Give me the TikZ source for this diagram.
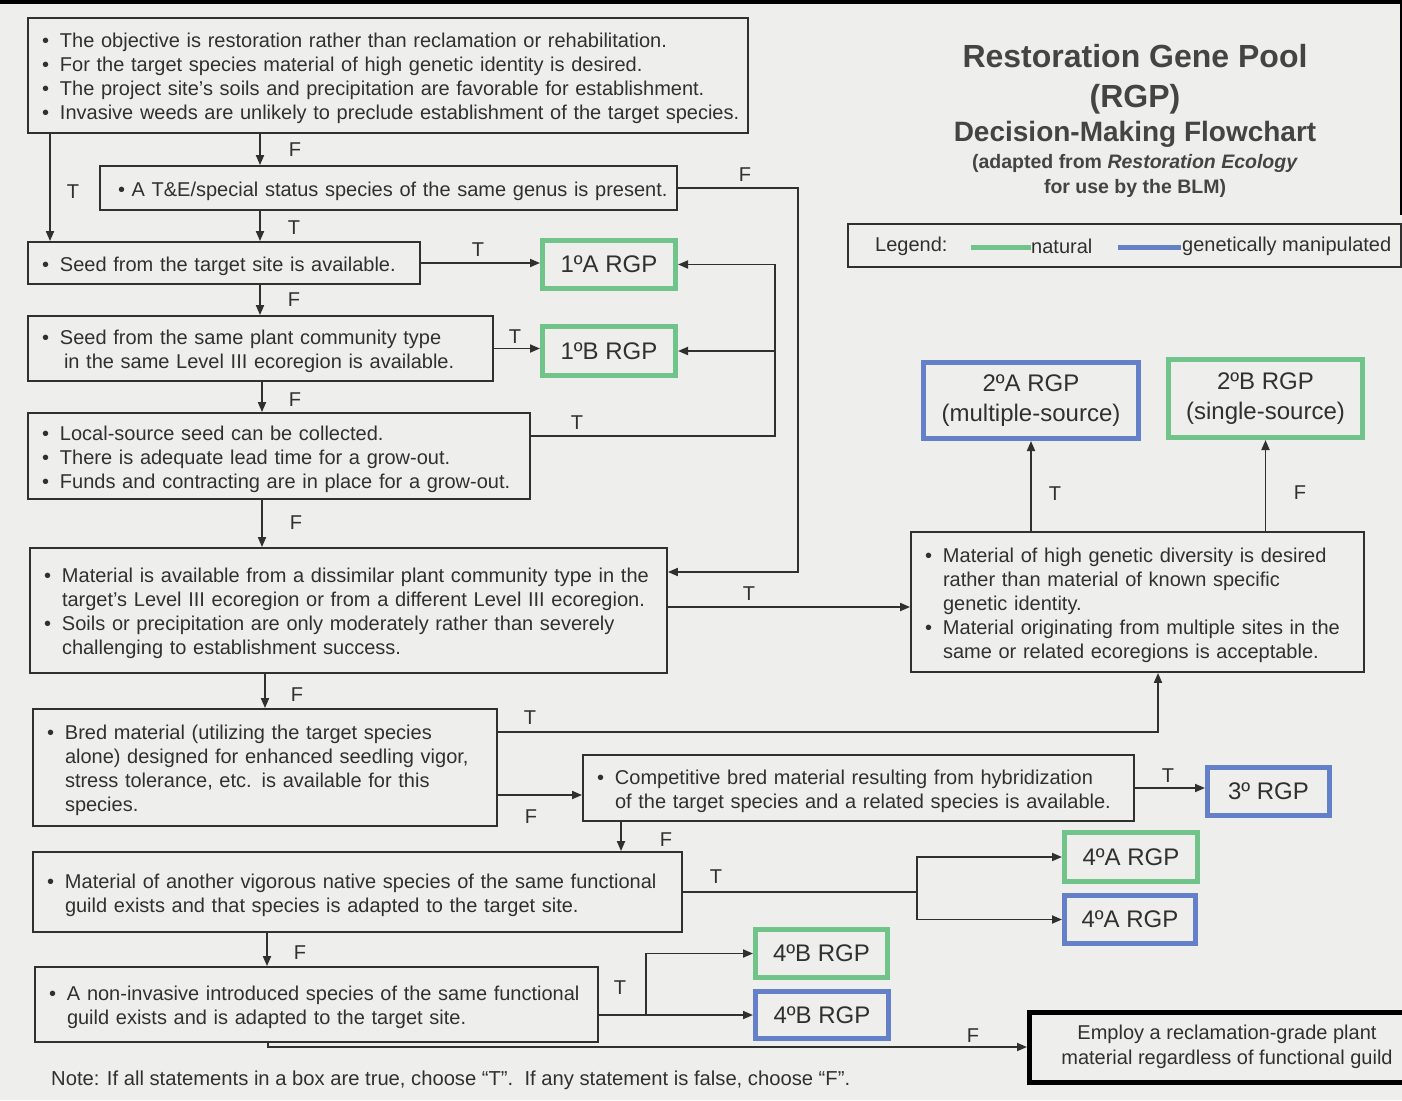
\documentclass[tikz,border=0pt]{standalone}
\usepackage{fontspec}
\setmainfont{Liberation Sans}
\usetikzlibrary{arrows.meta}
\definecolor{bgc}{RGB}{238,238,237}
\definecolor{ink}{RGB}{48,48,48}
\definecolor{grn}{RGB}{112,196,138}
\definecolor{blu}{RGB}{100,128,200}
\newcommand\bul{\makebox[18pt][l]{\textbullet}}
\newcommand\hind{\hspace*{18pt}}
\tikzset{
  cond/.style={draw=ink, line width=1.8pt, inner xsep=14pt, inner ysep=0pt, align=left, text=ink,
    font=\fontsize{20}{24}\selectfont},
  rgp/.style={line width=5pt, inner sep=0pt, align=center, text=ink, font=\fontsize{24}{30}\selectfont},
  lab/.style={text=ink, inner sep=0pt, font=\fontsize{20}{24}\selectfont},
  arr/.style={draw=ink, line width=1.8pt, -{Triangle[length=10pt,width=8pt]}},
  ttl/.style={text={rgb,255:red,68;green,68;blue,68}, inner sep=0pt, font=\bfseries},
}
% name, x1, y1, x2, y2, text  (optional extra options)
\newcommand\condbox[7][]{%
  \pgfmathsetmacro\cbw{#5-#3}%
  \pgfmathsetmacro\cbh{#6-#4}%
  \pgfmathsetmacro\cbt{#5-#3-28}%
  \node[cond, minimum width=\cbw pt, minimum height=\cbh pt, text width=\cbt pt, #1] (#2) at ({(#3+#5)/2},{(#4+#6)/2})
   {\noindent\raisebox{-3.5pt}[\height][\depth]{\begin{tabular}{@{}l@{}}#7\end{tabular}}};}
\newcommand\rgpbox[7]{%
  \pgfmathsetmacro\cbw{#5-#3-5}%
  \pgfmathsetmacro\cbh{#6-#4-5}%
  \node[rgp, draw=#7, minimum width=\cbw pt, minimum height=\cbh pt] (#1) at ({(#3+#5)/2},{(#4+#6)/2}) {#2};}
\begin{document}
\begin{tikzpicture}[x=1pt,y=-1pt]
\useasboundingbox (0,0) rectangle (1402,1100);
\fill[bgc] (0,0) rectangle (1402,1100);
\fill[black] (0,0) rectangle (1402,4);
\fill[black] (1400,0) rectangle (1402,215);

% ---------- title ----------
\node[ttl, font=\bfseries\fontsize{32}{36}\selectfont] (t1) at (1135,56) {Restoration Gene Pool};
\node[ttl, font=\bfseries\fontsize{32}{36}\selectfont] (t2) at (1135,99) {(RGP)};
\node[ttl, font=\bfseries\fontsize{28}{32}\selectfont] (t3) at (1135,134) {Decision-Making Flowchart};
\node[ttl, font=\bfseries\fontsize{19.5}{24}\selectfont] (t4) at (1135,163) {(adapted from \textit{Restoration Ecology}};
\node[ttl, font=\bfseries\fontsize{19.5}{24}\selectfont] (t5) at (1135,188) {for use by the BLM)};

% ---------- legend ----------
\node[draw=ink, line width=1.8pt, minimum width=553pt, minimum height=43pt, inner sep=0pt] (leg) at (1124.5,245.5) {};
\node[lab, anchor=west] (lg1) at (875,246) {Legend:};
\draw[grn, line width=5pt] (971,247) -- (1031,247);
\node[lab, anchor=west] (lg2) at (1031,246) {natural};
\draw[blu, line width=5pt] (1118,247) -- (1181,247);
\node[lab, anchor=west] (lg3) at (1182,246) {genetically manipulated};

% ---------- condition boxes ----------
\condbox{b1}{28}{18}{748}{133}{\bul The objective is restoration rather than reclamation or rehabilitation.\\
 \bul For the target species material of high genetic identity is desired.\\
 \bul The project site's soils and precipitation are favorable for establishment.\\
 \bul Invasive weeds are unlikely to preclude establishment of the target species.}
\condbox{b2}{100}{166}{677}{210}{\hspace*{4pt}\textbullet\ A T\&E/special status species of the same genus is present.}
\condbox{b3}{28}{242}{420}{284}{\bul Seed from the target site is available.}
\condbox{b4}{28}{316}{493}{381}{\bul Seed from the same plant community type\\
 \hspace*{22pt}in the same Level III ecoregion is available.}
\condbox{b5}{28}{413}{530}{499}{\bul Local-source seed can be collected.\\
 \bul There is adequate lead time for a grow-out.\\
 \bul Funds and contracting are in place for a grow-out.}
\condbox{b6}{30}{548}{667}{673}{\bul Material is available from a dissimilar plant community type in the\\
 \hind target's Level III ecoregion or from a different Level III ecoregion.\\
 \bul Soils or precipitation are only moderately rather than severely\\
 \hind challenging to establishment success.}
\condbox{b7}{911}{532}{1364}{672}{\bul Material of high genetic diversity is desired\\
 \hind rather than material of known specific\\
 \hind genetic identity.\\
 \bul Material originating from multiple sites in the\\
 \hind same or related ecoregions is acceptable.}
\condbox{b8}{33}{709}{497}{826}{\bul Bred material (utilizing the target species\\
 \hind alone) designed for enhanced seedling vigor,\\
 \hind stress tolerance, etc. is available for this\\
 \hind species.}
\condbox{b9}{583}{755}{1134}{821}{\bul Competitive bred material resulting from hybridization\\
 \hind of the target species and a related species is available.}
\condbox{b10}{33}{852}{682}{932}{\bul Material of another vigorous native species of the same functional\\
 \hind guild exists and that species is adapted to the target site.}
\condbox{b11}{35}{967}{598}{1042}{\bul A non-invasive introduced species of the same functional\\
 \hind guild exists and is adapted to the target site.}

% ---------- RGP boxes ----------
\rgpbox{A1}{1ºA RGP}{540}{238}{678}{291}{grn}
\rgpbox{B1}{1ºB RGP}{540}{324}{678}{378}{grn}
\rgpbox{A2}{2ºA RGP\\(multiple-source)}{921}{360}{1141}{441}{blu}
\rgpbox{B2}{2ºB RGP\\(single-source)}{1166}{357}{1365}{440}{grn}
\rgpbox{C3}{3º RGP}{1205}{765}{1332}{818}{blu}
\rgpbox{A4g}{4ºA RGP}{1062}{830}{1200}{884}{grn}
\rgpbox{A4b}{4ºA RGP}{1062}{893}{1198}{946}{blu}
\rgpbox{B4g}{4ºB RGP}{753}{927}{890}{980}{grn}
\rgpbox{B4b}{4ºB RGP}{753}{989}{891}{1041}{blu}
\node[draw=black, line width=5pt, minimum width=395pt, minimum height=70pt, inner sep=0pt, align=center, text=ink,
  font=\fontsize{20}{24.5}\selectfont] (fin) at (1227,1047) {Employ a reclamation-grade plant\\material regardless of functional guild};

% ---------- helper coordinates ----------
\coordinate (x50) at (50,0);
\coordinate (x260) at (260,0);
\coordinate (x262) at (262,0);
\coordinate (x265) at (265,0);
\coordinate (x621) at (621,0);
\coordinate (x267) at (267,0);
\coordinate (x268) at (268,0);
\coordinate (q1) at (798,572);
\coordinate (q2) at (775,436);
\coordinate (q3) at (0,607);
\coordinate (q4) at (1158,732);
\coordinate (q5) at (917,0);
\coordinate (q6) at (646,0);
\coordinate (q8) at (0,795);

% ---------- connectors ----------
\draw[arr] (b1.south -| x260) -- (b2.north -| x260);
\draw[arr] (b1.south -| x50) -- (b3.north -| x50);
\draw[arr] (b2.east) -| (q1) -- (b6.east |- q1);
\draw[arr] (b2.south -| x260) -- (b3.north -| x260);
\draw[arr] (b3.east) -- (A1.west |- b3.east);
\draw[arr] (b3.south -| x260) -- (b4.north -| x260);
\draw[arr] (b4.east) -- (B1.west |- b4.east);
\draw[arr] (b4.south -| x262) -- (b5.north -| x262);
\draw[arr] (b5.east |- q2) -- (q2) |- (A1.east);
\draw[arr] (q2 |- B1.east) -- (B1.east);
\draw[arr] (b5.south -| x262) -- (b6.north -| x262);
\draw[arr] (b6.east |- q3) -- (b7.west |- q3);
\draw[arr] (b7.north -| A2.south) -- (A2.south);
\draw[arr] (b7.north -| B2.south) -- (B2.south);
\draw[arr] (b6.south -| x265) -- (b8.north -| x265);
\draw[arr] (b8.east |- q4) -| (b7.south -| q4);
\draw[arr] (b8.east |- q8) -- (b9.west |- q8);
\draw[arr] (b9.east) -- (C3.west |- b9.east);
\draw[arr] (b9.south -| x621) -- (b10.north -| x621);
\draw[arr] (b10.east) -- (b10.east -| q5) |- (A4g.west);
\draw[arr] (b10.east -| q5) |- (A4b.west);
\draw[arr] (b10.south -| x267) -- (b11.north -| x267);
\draw[arr] (b11.east |- B4b.west) -- (B4b.west);
\draw[arr] (q6 |- B4b.west) |- (B4g.west);
\draw[arr] (b11.south -| x268) |- (fin.west);

% ---------- T / F labels ----------
\node[lab] (l1) at (295,150) {F};
\node[lab] (l2) at (73,192) {T};
\node[lab] (l3) at (745,175) {F};
\node[lab] (l4) at (294,228) {T};
\node[lab] (l5) at (478,250) {T};
\node[lab] (l6) at (294,300) {F};
\node[lab] (l7) at (515,337) {T};
\node[lab] (l8) at (295,400) {F};
\node[lab] (l9) at (577,423) {T};
\node[lab] (l10) at (296,523) {F};
\node[lab] (l11) at (749,594) {T};
\node[lab] (l12) at (1055,494) {T};
\node[lab] (l13) at (1300,493) {F};
\node[lab] (l14) at (297,695) {F};
\node[lab] (l15) at (530,718) {T};
\node[lab] (l16) at (531,817) {F};
\node[lab] (l17) at (1168,776) {T};
\node[lab] (l18) at (666,840) {F};
\node[lab] (l19) at (716,877) {T};
\node[lab] (l20) at (300,953) {F};
\node[lab] (l21) at (620,988) {T};
\node[lab] (l22) at (973,1036) {F};

% ---------- note ----------
\node[lab, anchor=west, font=\fontsize{20.2}{22}\selectfont] (note) at (51,1080)
  {Note: If all statements in a box are true, choose “T”.\ \ If any statement is false, choose “F”.};
\end{tikzpicture}
\end{document}
